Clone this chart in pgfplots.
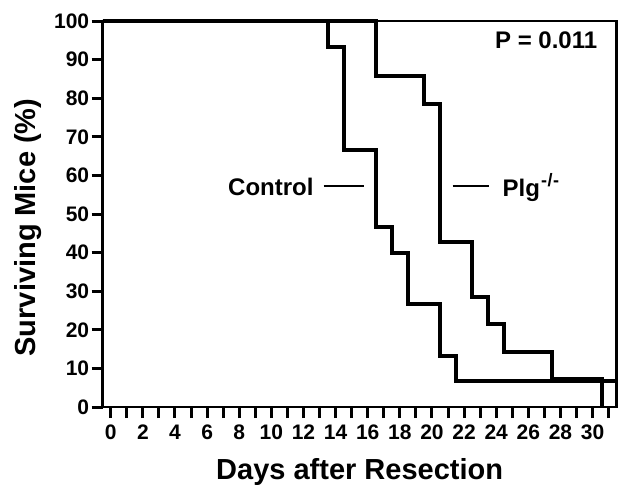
\documentclass[border=0pt]{standalone}
\usepackage{fontspec}
\setmainfont{Liberation Sans}
\usepackage{pgfplots}
\pgfplotsset{compat=1.18}
\newcommand{\tickfont}{\fontsize{21}{23}\selectfont\bfseries}
\newcommand{\notefont}{\fontsize{24}{26}\selectfont\bfseries}

\begin{document}
\begin{tikzpicture}
\useasboundingbox (-102.7pt,-84pt) rectangle (516.3pt,407pt);
\begin{axis}[
    at={(0,0)}, anchor=south west,
    scale only axis,
    width=514pt, height=386pt,
    xmin=-0.5, xmax=31.5,
    ymin=0, ymax=100,
    xtick={0,2,4,6,8,10,12,14,16,18,20,22,24,26,28,30},
    xticklabels={0,2,4,6,8,10,12,14,16,18,20,22,24,26,28,30},
    minor xtick={1,3,...,31},
    ytick={0,10,20,30,40,50,60,70,80,90,100},
    yticklabels={0,10,20,30,40,50,60,70,80,90,100},
    xtick pos=bottom, ytick pos=left,
    tick align=outside,
    major tick length=11pt, minor tick length=11pt,
    every tick/.style={black, line width=3pt},
    axis line style={line width=2.8pt},
    xticklabel style={font=\tickfont, anchor=base, yshift=-21pt},
    yticklabel style={font=\tickfont, anchor=east, xshift=1pt},
    xlabel={Days after Resection},
    ylabel={Surviving Mice (\%)},
    label style={font=\fontsize{29}{31}\selectfont\bfseries},
    xlabel style={at={(rel axis cs:0.5,-0.189)}, anchor=base},
    ylabel style={at={(rel axis cs:-0.13,0.465)}, anchor=base},
    clip=false,
]

% Control
\addplot[const plot, black, line width=4pt] coordinates {
    (-0.5,100) (13.5,93.33) (14.5,66.67) (16.5,46.67) (17.5,40)
    (18.5,26.67) (20.5,13.33) (21.5,6.67) (31.5,6.67)
};

% Plg-/-
\addplot[const plot, black, line width=4pt] coordinates {
    (-0.5,100) (16.5,85.71) (19.5,78.57) (20.5,42.86) (22.5,28.57)
    (23.5,21.43) (24.5,14.29) (27.5,7.14) (30.6,0)
};

\node[anchor=base east, inner sep=0pt, font=\notefont]
    at (axis cs:12.64,54.9) {Control};
\draw[line width=2.5pt] (axis cs:13.26,57.3) -- (axis cs:15.75,57.3);
\draw[line width=2.5pt] (axis cs:21.28,57.3) -- (axis cs:23.54,57.3);
\node[anchor=base west, inner sep=0pt, font=\notefont]
    at (axis cs:24.39,54.5) {Plg\kern1pt\raisebox{10pt}{\fontsize{18}{18}\selectfont -\kern0.5pt/\kern0.5pt-}};
\node[anchor=base east, inner sep=0pt, font=\notefont]
    at (axis cs:30.3,92.9) {P = 0.011};

\end{axis}
\end{tikzpicture}
\end{document}
